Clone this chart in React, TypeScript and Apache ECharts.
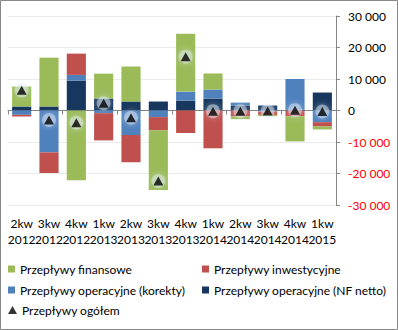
import React, { useEffect, useRef } from "react";
import * as echarts from "echarts";

const categories = ["2kw\n2012", "3kw\n2012", "4kw\n2012", "1kw\n2013", "2kw\n2013", "3kw\n2013", "4kw\n2013", "1kw\n2014", "2kw\n2014", "3kw\n2014", "4kw\n2014", "1kw\n2015"];
const nfNetto = [1270, 1270, 9500, 3800, 2850, 2850, 3150, 3800, 1600, 1580, 200, 5700];
const korekty = [-1370, -13300, 1800, -840, -7800, -2100, 2850, 2850, 900, -300, 9800, -3700];
const inwestycyjne = [-530, -6540, 6750, -8650, -8650, -4200, -7150, -12000, -1900, -1100, -1800, -1370];
const finansowe = [6330, 15500, -22150, 7900, 11080, -18900, 18400, 5100, -850, -400, -8000, -950];
const ogolem = [6400, -3000, -3900, 2300, -2300, -22400, 17100, -200, -200, -150, 100, -300];

const names = {
  fin: "Przepływy finansowe",
  inw: "Przepływy inwestycyjne",
  kor: "Przepływy operacyjne (korekty)",
  nf: "Przepływy operacyjne (NF netto)",
  og: "Przepływy ogółem",
};

const FONT = "Lato";

function fmt(v: number): string {
  const s = Math.abs(v).toString().replace(/\B(?=(\d{3})+(?!\d))/g, " ");
  return (v < 0 ? "-" : "") + s;
}

export default function App() {
  const ref = useRef<HTMLDivElement>(null);
  useEffect(() => {
    const chart = echarts.init(ref.current!, null, { renderer: "svg" });
    const legendText = { fontFamily: FONT, fontSize: 12, color: "#000" };
    const mkLegend = (name: string, left: number, top: number, icon: string, w: number, h: number) => ({
      data: [{ name, icon }],
      left,
      top,
      itemWidth: w,
      itemHeight: h,
      itemGap: 0,
      padding: 0,
      textStyle: legendText,
      selectedMode: false,
    });
    const barBase = { type: "bar", stack: "s", xAxisIndex: 0, yAxisIndex: 0, barCategoryGap: "30%" };
    chart.setOption({
      animation: false,
      textStyle: { fontFamily: FONT },
      grid: { left: 8, right: 62, top: 16, bottom: 125 },
      graphic: [
        {
          type: "rect",
          shape: { x: 0.5, y: 0.5, width: 397, height: 329 },
          style: { fill: "none", stroke: "#898989", lineWidth: 1 },
          silent: true,
        },
      ],
      legend: [
        mkLegend(names.fin, 8, 263, "rect", 7, 7),
        mkLegend(names.inw, 202, 263, "rect", 7, 7),
        mkLegend(names.kor, 8, 284, "rect", 7, 7),
        mkLegend(names.nf, 202, 284, "rect", 7, 7),
        mkLegend(names.og, 8, 304, "triangle", 9, 8),
      ],
      xAxis: [
        {
          type: "category",
          data: categories,
          position: "bottom",
          axisLine: { onZero: true, lineStyle: { color: "#868686", width: 1 } },
          axisTick: { show: true, length: 4, lineStyle: { color: "#868686" } },
          axisLabel: { show: false },
          splitLine: { show: false },
        },
        {
          type: "category",
          data: categories,
          position: "bottom",
          axisLine: { show: false, onZero: false },
          axisTick: { show: false },
          axisLabel: { show: true, margin: 10, fontFamily: FONT, fontSize: 12, color: "#000", lineHeight: 16, interval: 0 },
          splitLine: { show: false },
        },
      ],
      yAxis: {
        type: "value",
        position: "right",
        min: -30000,
        max: 30000,
        interval: 10000,
        axisLine: { show: true, lineStyle: { color: "#868686" } },
        axisTick: { show: true, length: 4, lineStyle: { color: "#868686" } },
        axisLabel: {
          margin: 12,
          fontFamily: FONT,
          fontSize: 12,
          formatter: (v: number) => fmt(v),
          color: (v: any) => (Number(v) < 0 ? "#FF0000" : "#000000"),
        },
        splitLine: { show: true, lineStyle: { color: "#EBEBEB", width: 1 } },
      },
      series: [
        { ...barBase, name: names.nf, data: nfNetto, itemStyle: { color: "#17375E" } },
        { ...barBase, name: names.kor, data: korekty, itemStyle: { color: "#4F81BD" } },
        { ...barBase, name: names.inw, data: inwestycyjne, itemStyle: { color: "#C0504D" } },
        { ...barBase, name: names.fin, data: finansowe, itemStyle: { color: "#9BBB59" } },
        {
          type: "scatter",
          name: "glow",
          data: ogolem,
          symbol: "circle",
          symbolSize: 14,
          itemStyle: {
            color: "rgba(230,240,250,0.55)",
            shadowColor: "rgba(230,240,250,0.9)",
            shadowBlur: 6,
          },
          silent: true,
          z: 9,
        },
        {
          type: "scatter",
          name: names.og,
          data: ogolem,
          symbol: "triangle",
          symbolSize: [10, 9],
          itemStyle: { color: "#000" },
          z: 10,
        },
      ],
    });
    return () => chart.dispose();
  }, []);
  return (
    <div
      ref={ref}
      style={{ position: "fixed", left: 0, top: 0, width: 398, height: 330, background: "#fff" }}
    />
  );
}
